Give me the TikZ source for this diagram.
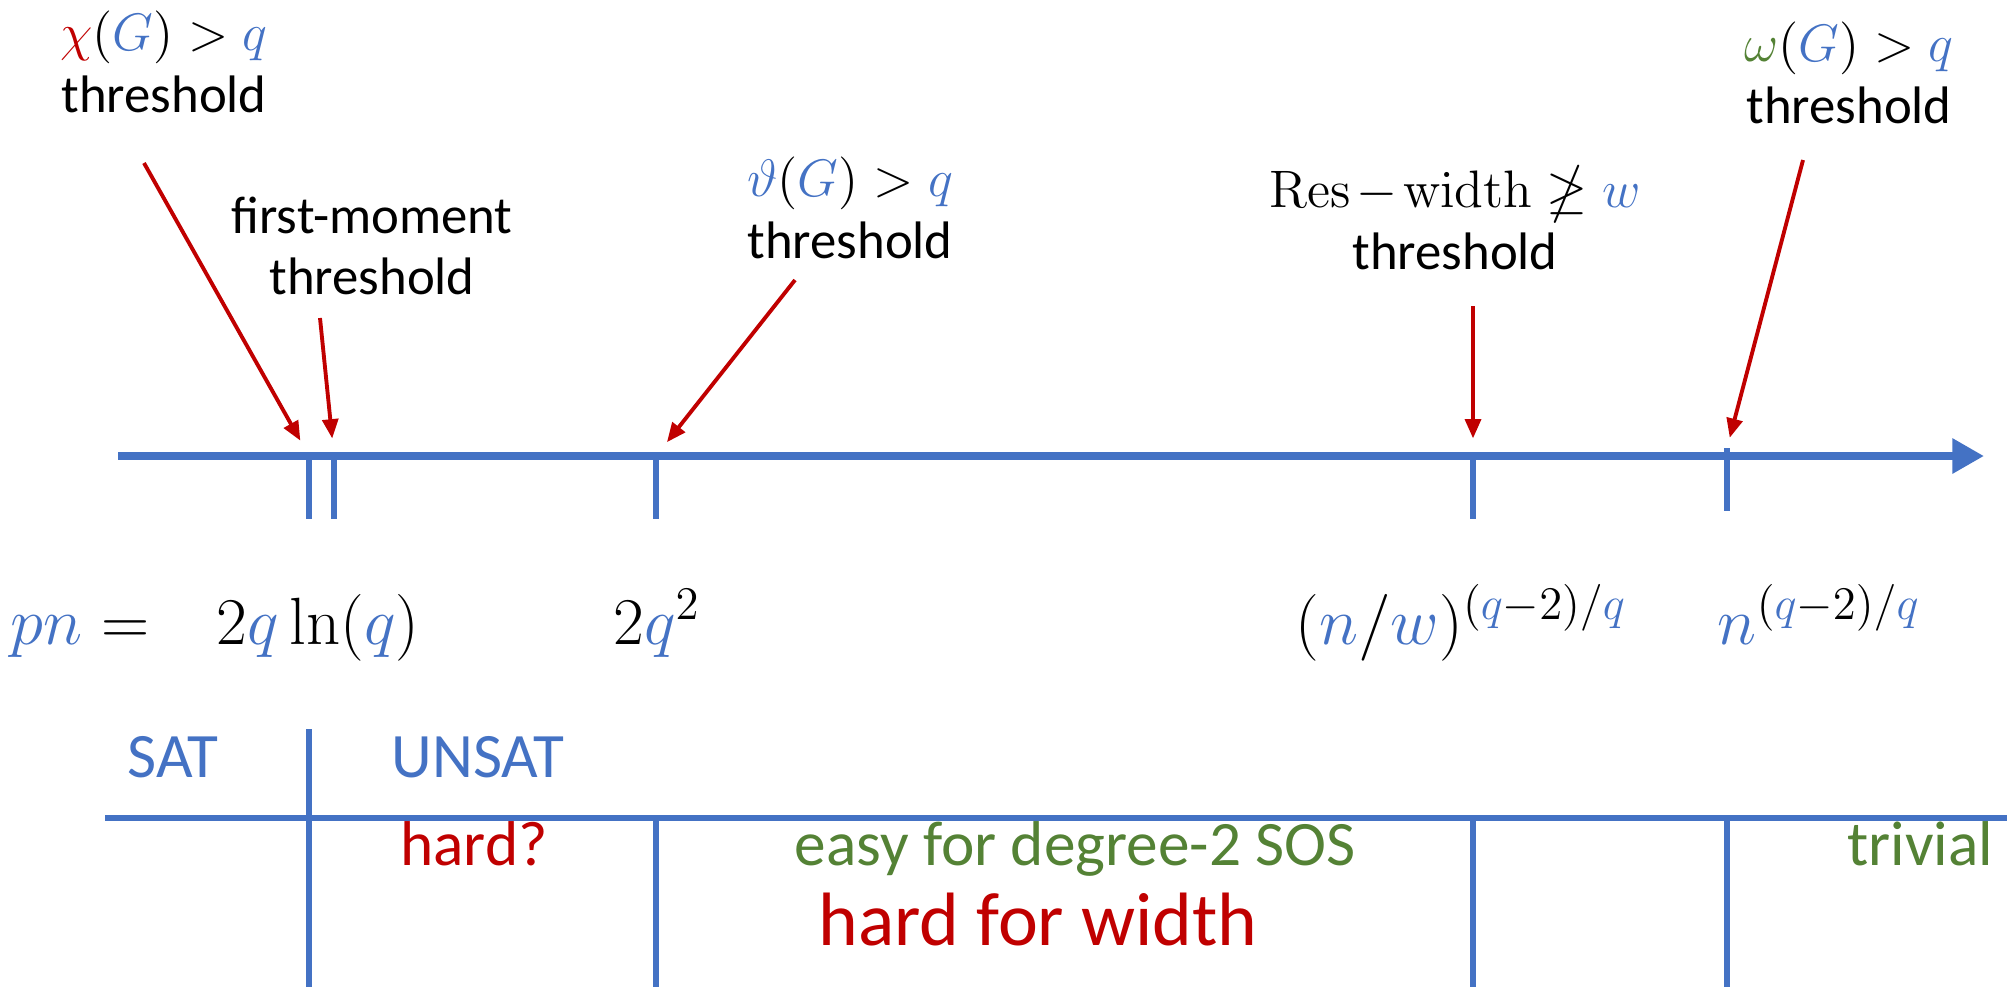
\RequirePackage{fix-cm}
\documentclass[tikz,border=0pt]{standalone}
\usepackage{amssymb}
\usepackage[no-math]{fontspec}
\setmainfont{Carlito}
\usetikzlibrary{arrows.meta}

\newcommand{\bq}{\textcolor{color1}{q}}

\begin{document}
\begin{tikzpicture}[x=0.01cm,y=-0.01cm,
	lbl/.style={align=center,font=\fontsize{15}{17.5}\selectfont,inner sep=0pt},
	val/.style={anchor=base,font=\fontsize{19}{22}\selectfont,inner sep=0pt},
	cell/.style={anchor=base,font=\fontsize{18}{21}\selectfont,inner sep=0pt},
	pointer/.style={color3,line width=1.1pt,shorten >=5pt,-{Triangle[length=5.5pt,width=4.5pt]}},
	tick/.style={color1,line width=1.8pt},
	rule/.style={color1,line width=1.5pt}]
	\definecolor{color1}{rgb}{0.267, 0.447, 0.769}
	\definecolor{color2}{rgb}{0.329, 0.510, 0.208}
	\definecolor{color3}{rgb}{0.753, 0., 0.}
	\useasboundingbox (0,0) rectangle (2013,987);
	%% Axis ------
	\coordinate (start) at (118,456);
	\coordinate (end) at (1984,456);
	\draw[color1,line width=2.2pt,-{Triangle[length=9pt,width=9.5pt]}] (start) -- (end);
	\foreach \x/\n in {309/a,334/b,656/c,1473/d}{
		\coordinate (tick\n) at (\x,456);
		\draw[tick] (tick\n) -- ++(0,63);
	}
	\coordinate (ticke) at (1727,448);
	\draw[tick] (ticke) -- ++(0,63);
	%% Thresholds ------
	\node[lbl] (chi) at (164,62) {$\textcolor{color3}{\chi}(\textcolor{color1}{G}) > \bq$\\threshold};
	\node[lbl] (fm) at (372,246) {first-moment\\threshold};
	\node[lbl] (theta) at (850,208) {$\textcolor{color1}{\vartheta}(\textcolor{color1}{G}) > \bq$\\threshold};
	\node[lbl] (res) at (1455,218) {$\mathrm{Res}\mkern2mu{-}\mkern2mu\mathrm{width} \ngeq \textcolor{color1}{w}$\\threshold};
	\node[lbl] (omega) at (1849,73) {$\textcolor{color2}{\omega}(\textcolor{color1}{G}) > \bq$\\threshold};
	%% Pointers ------
	\coordinate (chifrom) at (144,163);
	\coordinate (fmfrom) at (320,318);
	\coordinate (thetafrom) at (795,280);
	\coordinate (resfrom) at (1473,306);
	\coordinate (omegafrom) at (1803,160);
	\draw[pointer] (chifrom) -- (ticka);
	\draw[pointer] (fmfrom) -- (tickb);
	\draw[pointer] (thetafrom) -- (tickc);
	\draw[pointer] (resfrom) -- (tickd);
	\draw[pointer,shorten >=3pt] (omegafrom) -- (ticke);
	%% Values ------
	\node[val] (pn) at (80,644) {$\textcolor{color1}{pn} =$};
	\node[val] (v1) at (318,644) {$2\bq\ln(\bq)$};
	\node[val] (v2) at (657,644) {$2\bq^2$};
	\node[val] (v3) at (1461,644) {$(\textcolor{color1}{n}/\textcolor{color1}{w})^{(\bq-2)/\bq}$};
	\node[val] (v4) at (1819,644) {$\textcolor{color1}{n}^{(\bq-2)/\bq}$};
	%% Table ------
	\coordinate (rl) at (105,818);
	\coordinate (rr) at (2007,818);
	\draw[rule] (rl) -- (rr);
	\coordinate (sattop) at (309,729);
	\coordinate (satbot) at (309,987);
	\draw[rule] (sattop) -- (satbot);
	\foreach \x/\n in {656/a,1473/b,1727/c}{
		\coordinate (col\n) at (\x,818);
		\draw[rule] (col\n) -- ++(0,169);
	}
	\node[cell,text=color1] (sat) at (173,777) {SAT};
	\node[cell,text=color1] (unsat) at (478,777) {UNSAT};
	\node[cell,text=color3] (hard) at (474,865) {hard?};
	\node[cell,text=color2] (easy) at (1075,865) {easy for degree-2 SOS};
	\node[cell,text=color3,font=\fontsize{21.5}{24}\selectfont] (hardw) at (1038,945) {hard for width};
	\node[cell,text=color2,anchor=base east] (trivial) at (1994,865) {trivial};
	\node[font=\fontsize{9}{10}\selectfont,text=gray,anchor=north] (page) at (1948,980) {38};
\end{tikzpicture}
\end{document}
